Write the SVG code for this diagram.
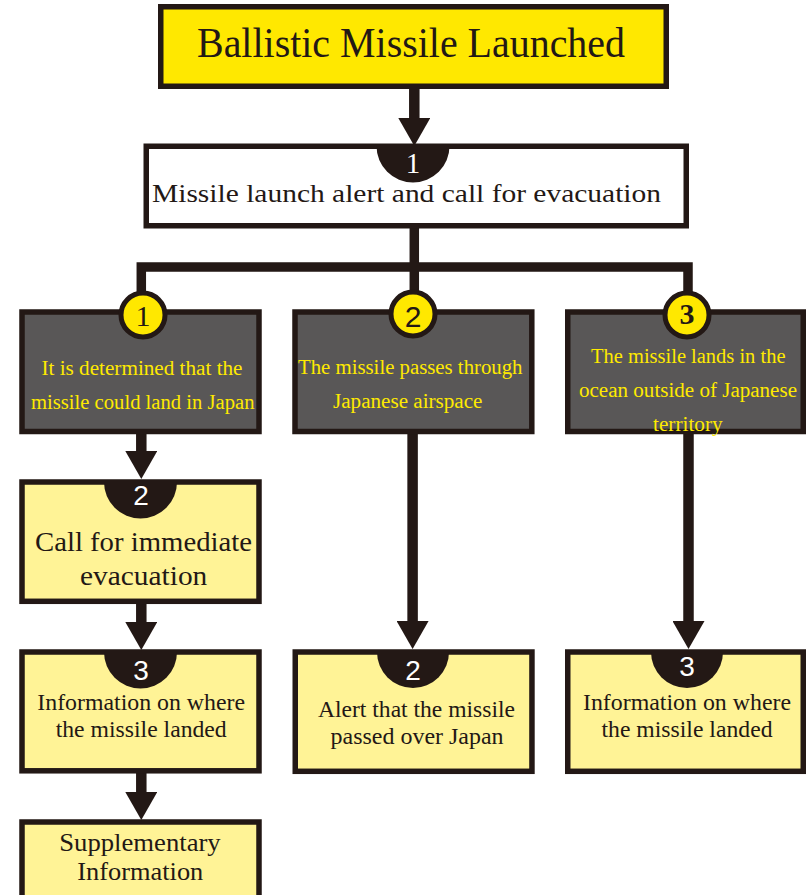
<svg xmlns="http://www.w3.org/2000/svg" width="809" height="895" viewBox="0 0 809 895">
<style>
.box{stroke:#231815;stroke-width:5.5}
.gray{fill:#595757}
.ly{fill:#FFF396}
.badge{fill:#231815}
.ser{font-family:"Liberation Serif","Times New Roman",serif;fill:#231815}
.gt{font-family:"Liberation Serif","Times New Roman",serif;fill:#FFEA00;font-size:20px}
.wd{font-family:"Liberation Sans",Arial,sans-serif;fill:#ffffff;font-size:28px;text-anchor:middle}
.cd{fill:#231815;font-size:30px;text-anchor:middle}
.circ{fill:#FFE800;stroke:#231815;stroke-width:5}
.conn{stroke:#231815;fill:none}
</style>
<defs>
<marker id="ah" markerUnits="userSpaceOnUse" viewBox="0 0 28 32" markerWidth="28" markerHeight="32" refX="0" refY="16" orient="auto">
<path d="M0,0 L28,16 L0,32 Z" fill="#231815"/>
</marker>
</defs>
<rect width="809" height="895" fill="#ffffff"/>
<g id="connectors">
<path class="conn" stroke-width="9.5" d="M141.3 296 V267 H688 V296 M414.3 226 V296"/>
<g stroke-width="10.5" class="conn" marker-end="url(#ah)">
<path d="M414.3 87 V118"/>
<path d="M141.3 432 V451"/>
<path d="M412.6 432 V621"/>
<path d="M688.5 432 V621"/>
<path d="M141.3 602 V622"/>
<path d="M141.3 772 V792"/>
</g>
</g>
<g id="n-launch">
<rect class="box" x="160.75" y="6.75" width="505.5" height="79.5" fill="#FFE800"/>
<text class="ser" x="197" y="57" font-size="42" textLength="428" lengthAdjust="spacingAndGlyphs">Ballistic Missile Launched</text>
</g>
<g id="n-alert">
<rect class="box" x="146.25" y="146.25" width="540" height="79.5" fill="#ffffff"/>
<path class="badge" d="M376.5 146 A36.5 36.5 0 0 0 449.5 146 Z"/>
<text class="ser" x="413" y="173" font-size="29" fill="#ffffff" style="fill:#fff" text-anchor="middle">1</text>
<text class="ser" x="152" y="202" font-size="26" textLength="509" lengthAdjust="spacingAndGlyphs">Missile launch alert and call for evacuation</text>
</g>
<g id="n-case1">
<rect class="box gray" x="22" y="312" width="237" height="119.5"/>
<text class="gt" x="41.5" y="375" textLength="201" lengthAdjust="spacingAndGlyphs">It is determined that the</text>
<text class="gt" x="31" y="409" textLength="223.5" lengthAdjust="spacingAndGlyphs">missile could land in Japan</text>
<circle class="circ" cx="143" cy="315" r="22"/>
<text class="ser cd" x="143" y="326">1</text>
</g>
<g id="n-case2">
<rect class="box gray" x="295" y="312" width="236.8" height="119.5"/>
<text class="gt" x="298" y="374" textLength="224.5" lengthAdjust="spacingAndGlyphs">The missile passes through</text>
<text class="gt" x="333" y="408" textLength="149.5" lengthAdjust="spacingAndGlyphs">Japanese airspace</text>
<circle class="circ" cx="413" cy="314" r="22"/>
<text class="cd" x="413" y="327" font-family="Liberation Sans, Arial, sans-serif" font-size="28">2</text>
</g>
<g id="n-case3">
<rect class="box gray" x="567.75" y="312" width="235.5" height="119.5"/>
<circle class="circ" cx="687" cy="315" r="22"/>
<text class="ser cd" x="687" y="324" font-weight="bold">3</text>
<text class="gt" x="591" y="363" textLength="194.5" lengthAdjust="spacingAndGlyphs">The missile lands in the</text>
<text class="gt" x="579" y="397" textLength="218" lengthAdjust="spacingAndGlyphs">ocean outside of Japanese</text>
<text class="gt" x="653" y="431" textLength="69.7" lengthAdjust="spacingAndGlyphs">territory</text>
</g>
<g id="n-evac">
<rect class="box ly" x="22" y="482" width="237" height="119.3"/>
<path class="badge" d="M104 482 A36.5 36.5 0 0 0 177 482 Z"/>
<text class="wd" x="141" y="505">2</text>
<text class="ser" x="35" y="551" font-size="28" textLength="217" lengthAdjust="spacingAndGlyphs">Call for immediate</text>
<text class="ser" x="80" y="585" font-size="28" textLength="127.3" lengthAdjust="spacingAndGlyphs">evacuation</text>
</g>
<g id="n-info1">
<rect class="box ly" x="22" y="652" width="237" height="118.8"/>
<path class="badge" d="M104 652 A36.5 36.5 0 0 0 177 652 Z"/>
<text class="wd" x="141" y="680">3</text>
<text class="ser" x="37.3" y="710" font-size="23" textLength="207.7" lengthAdjust="spacingAndGlyphs">Information on where</text>
<text class="ser" x="55.7" y="737.3" font-size="23" textLength="171" lengthAdjust="spacingAndGlyphs">the missile landed</text>
</g>
<g id="n-supp">
<rect class="box ly" x="22" y="822" width="237" height="90"/>
<text class="ser" x="59.3" y="851" font-size="26" textLength="161.4" lengthAdjust="spacingAndGlyphs">Supplementary</text>
<text class="ser" x="77.3" y="880" font-size="26" textLength="126" lengthAdjust="spacingAndGlyphs">Information</text>
</g>
<g id="n-passed">
<rect class="box ly" x="295.25" y="652" width="236.7" height="119.3"/>
<path class="badge" d="M377 652 A36 36 0 0 0 449 652 Z"/>
<text class="wd" x="413" y="680">2</text>
<text class="ser" x="318" y="717" font-size="23" textLength="197" lengthAdjust="spacingAndGlyphs">Alert that the missile</text>
<text class="ser" x="330.6" y="744" font-size="23" textLength="173" lengthAdjust="spacingAndGlyphs">passed over Japan</text>
</g>
<g id="n-info3">
<rect class="box ly" x="567.75" y="652" width="235.5" height="119.3"/>
<path class="badge" d="M651 652 A36 36 0 0 0 723 652 Z"/>
<text class="wd" x="687" y="676">3</text>
<text class="ser" x="583" y="710" font-size="23" textLength="208" lengthAdjust="spacingAndGlyphs">Information on where</text>
<text class="ser" x="601.5" y="737" font-size="23" textLength="171" lengthAdjust="spacingAndGlyphs">the missile landed</text>
</g>
</svg>
